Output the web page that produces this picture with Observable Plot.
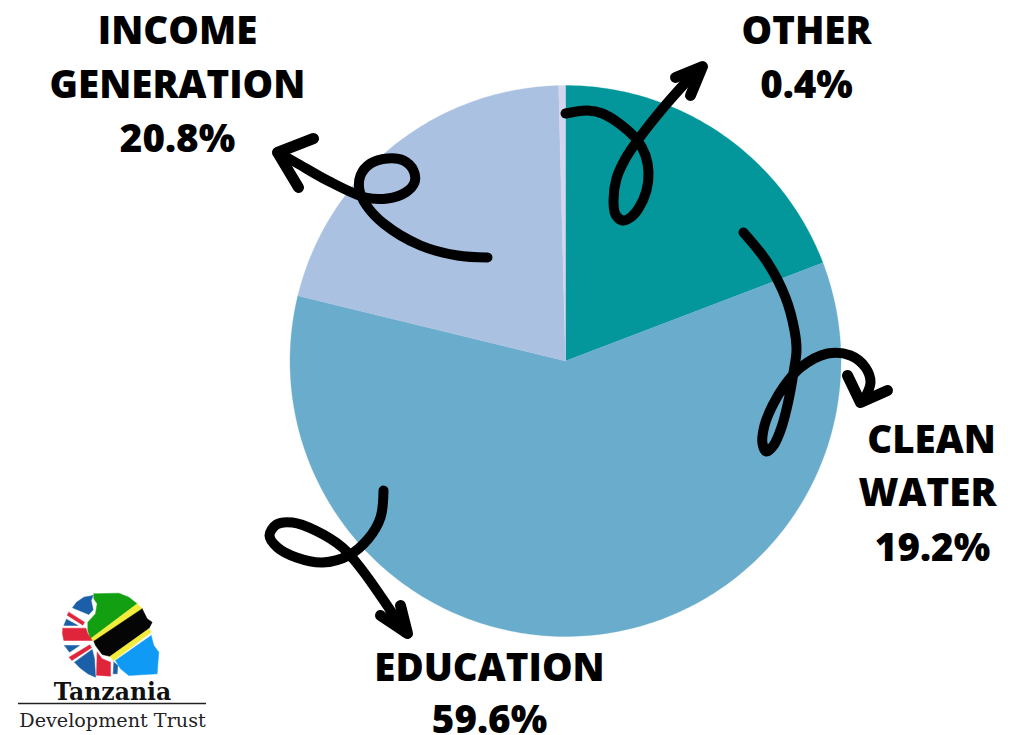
<!DOCTYPE html>
<html><head><meta charset="utf-8">
<script src="https://cdn.jsdelivr.net/npm/d3@7"></script>
<script src="https://cdn.jsdelivr.net/npm/@observablehq/plot@0.6"></script>
<style>html,body{margin:0;padding:0;background:#fff}svg{display:block}</style>
</head><body><div id="c"></div><script>
const categories = ["CLEAN WATER","EDUCATION","INCOME GENERATION","OTHER"];
const shares = [19.2,59.6,20.8,0.4];
const sliceColors = ["#03969A","#6AACCC","#ABC1E2","#D3D6EE"];
const labelLines = ["INCOME","GENERATION","20.8%","OTHER","0.4%","CLEAN","WATER","19.2%","EDUCATION","59.6%"];
const labelX = [177,177,177,806,806,931,927,932,489,489];
const labelY = [43,97,151,43,97,452,505,560,680,732];

const squiggleOther = [[565,113],[587,110],[602,113],[620,124],[637,140],[645,155],[648,172],[646,190],[638,208],[630,217],[622,220],[615,214],[613,200],[616,178],[625,158],[637,140],[663,107],[698,68]];
const headOther = [[675,77],[702,66],[690,95]];
const squiggleIncome = [[487,257],[457,255],[420,245],[383,223],[366,205],[359,190],[360,175],[370,163],[387,158],[403,160],[413,170],[414,182],[405,192],[387,198],[365,197],[327,180],[297,163],[277,152]];
const headIncome = [[313,138],[277,152],[298,187]];
const squiggleWater = [[743,232],[767,262],[785,297],[794,330],[796,350],[793,372],[788,400],[781,427],[773,445],[766,451],[762,443],[764,425],[772,405],[784,385],[800,367],[827,353],[850,355],[865,367],[870,382],[864,398]];
const headWater = [[847,375],[860,402],[887,390]];
const squiggleEducation = [[383,490],[380,517],[368,538],[348,555],[322,562],[296,557],[277,547],[269,535],[276,524],[292,522],[315,530],[342,547],[362,570],[388,607],[405,632]];
const headEducation = [[380,615],[407,633],[400,605]];

// logo shapes, traced in a 3x grid then placed at the bottom left
const logoGreen = [[280,40],[355,38],[385,50],[410,70],[270,175],[262,150],[262,125],[285,100],[290,70],[280,55]];
const logoYellowA = [[410,70],[425,85],[280,182],[270,175]];
const logoBlack = [[425,85],[440,115],[455,125],[445,145],[330,228],[305,222],[285,195],[280,182]];
const logoYellowB = [[445,145],[452,155],[340,240],[328,228]];
const logoSky = [[452,165],[460,195],[475,215],[472,250],[470,280],[385,285],[360,265],[345,240]];
const logoBlueTop = [[278,45],[250,50],[228,65],[216,82],[265,102],[278,88],[272,60]];
const logoBlueLeft = [[198,116],[232,135],[190,135]];
const logoRedDiag = [[205,95],[252,125],[247,134],[200,104]];
const logoRedBand = [[187,143],[256,143],[262,160],[275,180],[190,180],[186,160]];
const logoBlueLow = [[192,195],[237,195],[207,215]];
const logoRedDiagLow = [[206,230],[268,193],[273,202],[214,240]];
const logoBlueBottom = [[222,245],[275,207],[282,235],[285,290],[262,280],[238,262]];
const logoRedBottom = [[290,215],[305,235],[330,245],[330,287],[288,284]];
const logoBlueTiny = [[340,245],[352,255],[350,280],[338,280]];
const logoShapes = [
  [logoGreen,"#12A012"],[logoYellowA,"#F2EC3A"],[logoBlack,"#050505"],[logoYellowB,"#F2EC3A"],[logoSky,"#0F9BF5"],
  [logoBlueTop,"#1B5FA8"],[logoBlueLeft,"#1B5FA8"],[logoRedDiag,"#E0243A"],[logoRedBand,"#E0243A"],
  [logoBlueLow,"#1B5FA8"],[logoRedDiagLow,"#E0243A"],[logoBlueBottom,"#1B5FA8"],[logoRedBottom,"#E0243A"],[logoBlueTiny,"#1B5FA8"]
];

const cx = 565, cy = 360.5, r = 275.5;
let acc = 0;
const wedgePts = [];
categories.forEach((name,i)=>{
  const a0 = acc/100*2*Math.PI; acc += shares[i];
  const a1 = acc/100*2*Math.PI;
  const n = Math.max(2,Math.ceil((a1-a0)*60));
  wedgePts.push({name,x:cx,y:cy});
  for(let k=0;k<=n;k++){const a=a0+(a1-a0)*k/n; wedgePts.push({name,x:cx+r*Math.sin(a),y:cy-r*Math.cos(a)});}
  wedgePts.push({name,x:cx,y:cy});
});

const px = {x:d=>d[0],y:d=>d[1]};
const lineStyle = {stroke:"#000",strokeWidth:10,strokeLinecap:"round",strokeLinejoin:"round",fill:"none"};
const squiggle = p => Plot.line(p,{...px,...lineStyle,curve:"catmull-rom"});
const head = p => Plot.line(p,{...px,...lineStyle,strokeWidth:11,curve:"linear"});
const logoPt = p => p.map(d=>[d[0]/3,580+d[1]/3]);
const labels = labelLines.map((t,i)=>({t,x:labelX[i],y:labelY[i]}));

const chart = Plot.plot({
  width:1017,height:735,margin:0,
  style:{background:"#fff",maxWidth:"none"},
  x:{domain:[0,1017],range:[0,1017],axis:null},
  y:{domain:[0,735],range:[0,735],axis:null},
  color:{domain:categories,range:sliceColors},
  marks:[
    Plot.line(wedgePts,{x:"x",y:"y",z:"name",fill:"name",stroke:"name",strokeWidth:0.3,curve:"linear"}),
    squiggle(squiggleOther),head(headOther),
    squiggle(squiggleIncome),head(headIncome),
    squiggle(squiggleWater),head(headWater),
    squiggle(squiggleEducation),head(headEducation),
    Plot.text(labels,{x:"x",y:"y",text:"t",fontFamily:"Open Sans",fontWeight:800,fontSize:38.5,fill:"#000",textAnchor:"middle",lineAnchor:"bottom"}),
    ...logoShapes.map(([p,c])=>Plot.line(logoPt(p).concat([logoPt(p)[0]]),{...px,fill:c,stroke:c,strokeWidth:0.5,curve:"linear"})),
    Plot.text(["Tanzania"],{x:()=>112,y:()=>699,text:d=>d,fontFamily:"DejaVu Serif",fontWeight:700,fontSize:23.5,fill:"#111",textAnchor:"middle",lineAnchor:"bottom"}),
    Plot.ruleY([703],{x1:18,x2:206,stroke:"#222",strokeWidth:1.5}),
    Plot.text(["Development Trust"],{x:()=>112,y:()=>726,text:d=>d,fontFamily:"DejaVu Serif",fontSize:19.2,fill:"#222",textAnchor:"middle",lineAnchor:"bottom"})
  ]
});
document.getElementById("c").append(chart);
</script></body></html>
